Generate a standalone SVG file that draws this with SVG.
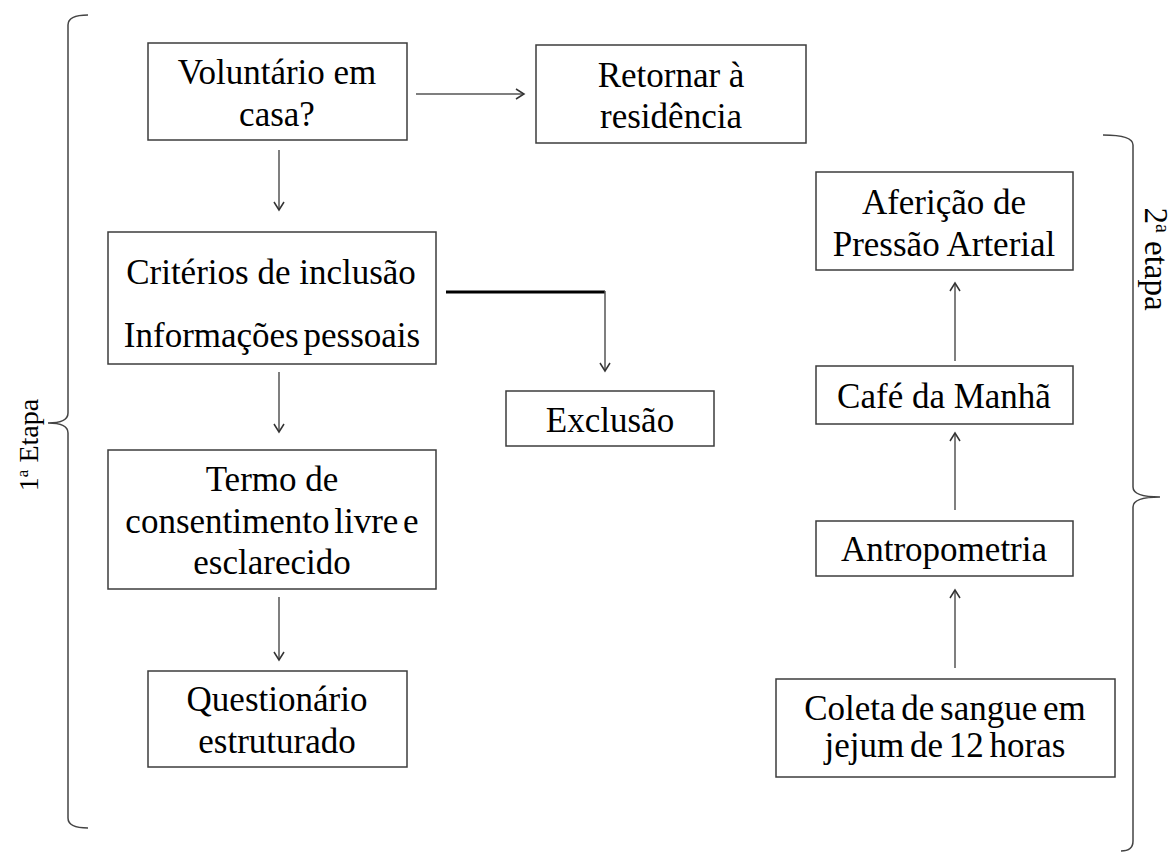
<svg xmlns="http://www.w3.org/2000/svg" width="1176" height="856" viewBox="0 0 1176 856">
<defs>
<marker id="ah" markerWidth="12" markerHeight="12" refX="9" refY="6" orient="auto" markerUnits="userSpaceOnUse">
<path d="M1,1 L9,6 L1,11" fill="none" stroke="#333" stroke-width="1.5"/>
</marker>
<style>
.box{fill:#fff;stroke:#3c3c3c;stroke-width:1.5}
.t{font-family:"Liberation Serif","Times New Roman",serif;font-size:35px;fill:#000;text-anchor:middle}
.c{fill:none;stroke:#555;stroke-width:1.5}
.br{fill:none;stroke:#444;stroke-width:1.5}
.lab{font-family:"Liberation Serif","Times New Roman",serif;fill:#000;text-anchor:middle}
</style>
</defs>
<rect width="1176" height="856" fill="#fff"/>

<g id="connectors">
<line class="c" x1="416" y1="94" x2="524" y2="94" marker-end="url(#ah)"/>
<line class="c" x1="279" y1="150" x2="279" y2="210" marker-end="url(#ah)"/>
<polyline points="446,292 605,292" fill="none" stroke="#000" stroke-width="3"/>
<polyline class="c" points="605,291 605,371" marker-end="url(#ah)"/>
<line class="c" x1="279" y1="372" x2="279" y2="432" marker-end="url(#ah)"/>
<line class="c" x1="279" y1="597" x2="279" y2="660" marker-end="url(#ah)"/>
<line class="c" x1="955" y1="361" x2="955" y2="283" marker-end="url(#ah)"/>
<line class="c" x1="955" y1="510" x2="955" y2="433" marker-end="url(#ah)"/>
<line class="c" x1="955" y1="668" x2="955" y2="590" marker-end="url(#ah)"/>
</g>

<g id="brackets">
<path class="br" d="M88,15 Q68,15 68,25 L68,413 Q68,423 48,423 Q68,423 68,433 L68,818 Q68,828 88,828"/>
<path class="br" d="M1103,135 Q1133,135 1133,145 L1133,487 Q1133,497 1160,497 Q1133,497 1133,507 L1133,841 Q1133,851 1121,851"/>
<text class="lab" font-size="28" transform="translate(38,445) rotate(-90)">1<tspan font-size="17" dy="-10">a</tspan><tspan dy="10"> Etapa</tspan></text>
<text class="lab" font-size="33" transform="translate(1145,259) rotate(90)">2<tspan font-size="20" dy="-11">a</tspan><tspan dy="11"> etapa</tspan></text>
</g>

<g id="n-voluntario">
<rect class="box" x="148" y="43" width="259" height="97"/>
<text class="t" x="277" y="84">Voluntário em</text>
<text class="t" x="277" y="126">casa?</text>
</g>
<g id="n-retornar">
<rect class="box" x="536" y="45" width="270" height="98"/>
<text class="t" x="671" y="87">Retornar à</text>
<text class="t" x="671" y="128">residência</text>
</g>
<g id="n-criterios">
<rect class="box" x="108" y="232" width="328" height="132"/>
<text class="t" x="271" y="284">Critérios de inclusão</text>
<text class="t" x="272" y="347" word-spacing="-4">Informações pessoais</text>
</g>
<g id="n-exclusao">
<rect class="box" x="506" y="391" width="208" height="55"/>
<text class="t" x="610" y="432">Exclusão</text>
</g>
<g id="n-termo">
<rect class="box" x="108" y="450" width="328" height="139"/>
<text class="t" x="272" y="491">Termo de</text>
<text class="t" x="272" y="533" word-spacing="-4">consentimento livre e</text>
<text class="t" x="272" y="574">esclarecido</text>
</g>
<g id="n-questionario">
<rect class="box" x="148" y="671" width="259" height="96"/>
<text class="t" x="277" y="711">Questionário</text>
<text class="t" x="277" y="753">estruturado</text>
</g>
<g id="n-afericao">
<rect class="box" x="816" y="172" width="257" height="98"/>
<text class="t" x="944" y="214">Aferição de</text>
<text class="t" x="944" y="256">Pressão Arterial</text>
</g>
<g id="n-cafe">
<rect class="box" x="816" y="366" width="257" height="58"/>
<text class="t" x="944" y="408">Café da Manhã</text>
</g>
<g id="n-antropometria">
<rect class="box" x="816" y="521" width="257" height="55"/>
<text class="t" x="944" y="561">Antropometria</text>
</g>
<g id="n-coleta">
<rect class="box" x="776" y="679" width="339" height="98"/>
<text class="t" x="945" y="720" word-spacing="-3">Coleta de sangue em</text>
<text class="t" x="945" y="757" word-spacing="-3">jejum de 12 horas</text>
</g>
</svg>
